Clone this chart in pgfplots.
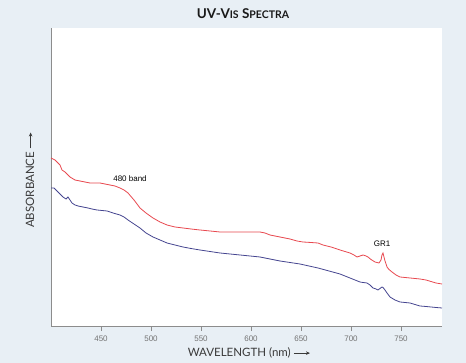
\documentclass[border=0pt]{standalone}
\usepackage{fontspec}
\setmainfont{Liberation Sans}
\newfontfamily\labelfont{Lato}
\usepackage{pgfplots}
\pgfplotsset{compat=1.18}
\usetikzlibrary{arrows.meta}
\definecolor{bgblue}{HTML}{E8EFF5}
\definecolor{redline}{HTML}{E8484F}
\definecolor{blueline}{HTML}{44448F}
\definecolor{axgrey}{HTML}{8C8C8C}
\definecolor{labgrey}{HTML}{3A3A3A}
\newcommand{\rarr}{\tikz[baseline=-0.6ex]\draw[line width=0.6pt,-{Stealth[length=4pt,width=3.5pt]}] (0,0)--(16pt,0);}
\begin{document}
\begin{tikzpicture}[x=1pt,y=1pt]
\fill[bgblue] (0,0) rectangle (466,363);
\begin{axis}[
  at={(51pt,36pt)}, anchor=south west,
  scale only axis, width=391pt, height=299pt,
  xmin=400, xmax=791, ymin=0, ymax=2.99,
  axis x line*=bottom, axis y line*=left,
  axis line style={axgrey, line width=1pt},
  axis background/.style={fill=white},
  xtick={450,500,550,600,650,700,750},
  ytick=\empty,
  tick align=outside, major tick length=4pt,
  tick style={axgrey, line width=0.8pt},
  x tick label style={font=\fontsize{8}{9}\selectfont, text=gray!90!black, yshift=-1pt},
  /pgf/number format/assume math mode=true,
  clip=false,
]
\addplot[redline, line width=0.8pt] coordinates {
(400,1.69) (402,1.68) (404,1.67) (407,1.64) (409,1.62) (411,1.57) (414,1.55) (417,1.52) (419,1.50)
(424,1.47) (429,1.46) (434,1.45) (439,1.44) (444,1.44) (449,1.44) (454,1.43) (459,1.42)
(464,1.41) (469,1.39) (473,1.37) (477,1.34) (483,1.27) (489,1.19) (495,1.14) (502,1.09)
(509,1.05) (516,1.02) (524,1.00) (532,0.99) (540,0.98) (549,0.97) (559,0.96) (569,0.95)
(579,0.95) (589,0.95) (599,0.95) (609,0.95) (614,0.94) (619,0.92) (629,0.90) (639,0.88)
(646,0.86) (652,0.85) (660,0.845) (667,0.84) (672,0.82) (680,0.80) (689,0.77) (694,0.755) (699,0.74)
(703,0.72) (706,0.70) (709,0.71) (712,0.72) (715,0.71) (717,0.70) (720,0.675) (724,0.65) (728,0.64)
(730,0.67) (731,0.72) (732,0.74) (733,0.70) (734,0.66) (736,0.60) (738,0.575) (741,0.55) (745,0.52)
(749,0.50) (754,0.495) (759,0.49) (764,0.485) (769,0.48) (775,0.47) (780,0.455) (785,0.44) (791,0.43)
};
\addplot[blueline, line width=0.8pt] coordinates {
(400,1.39) (403,1.39) (405,1.37) (407,1.35) (410,1.32) (412,1.30) (415,1.28) (417,1.30) (419,1.27)
(421,1.24) (424,1.22) (427,1.21) (432,1.20) (437,1.19) (441,1.18) (446,1.17) (451,1.165) (456,1.16)
(462,1.14) (469,1.12) (473,1.10) (477,1.07) (483,1.03) (489,0.99) (495,0.94) (502,0.90)
(509,0.87) (516,0.84) (524,0.82) (532,0.80) (540,0.785) (549,0.77) (559,0.755) (569,0.74)
(579,0.73) (589,0.72) (599,0.71) (609,0.70) (619,0.68) (629,0.66) (639,0.645) (649,0.63)
(658,0.61) (667,0.59) (678,0.56) (689,0.53) (694,0.51) (699,0.49) (704,0.47) (709,0.45)
(712,0.445) (716,0.44) (719,0.42) (722,0.39) (725,0.38) (727,0.37) (729,0.385) (731,0.40) (732,0.395)
(734,0.37) (736,0.34) (739,0.30) (744,0.27) (749,0.25) (754,0.245) (759,0.24) (764,0.225)
(769,0.21) (775,0.205) (780,0.20) (785,0.195) (791,0.19)
};
\node[font=\fontsize{8}{9}\selectfont] at (axis cs:479,1.485) {480 band};
\node[font=\fontsize{8}{9}\selectfont] at (axis cs:731,0.835) {GR1};
\end{axis}
\node[font=\labelfont\bfseries\fontsize{13.5}{15}\selectfont, text=black!90] at (243,349)
  {UV-V{\fontsize{10.5}{12}\selectfont IS} S{\fontsize{10.5}{12}\selectfont PECTRA}};
\node[font=\labelfont\fontsize{11.5}{13}\selectfont, text=labgrey] at (249,10)
  {WAVELENGTH (nm) \rarr};
\node[font=\labelfont\fontsize{11.5}{13}\selectfont, text=labgrey, rotate=90] at (30,183)
  {ABSORBANCE \rarr};
\end{tikzpicture}
\end{document}
